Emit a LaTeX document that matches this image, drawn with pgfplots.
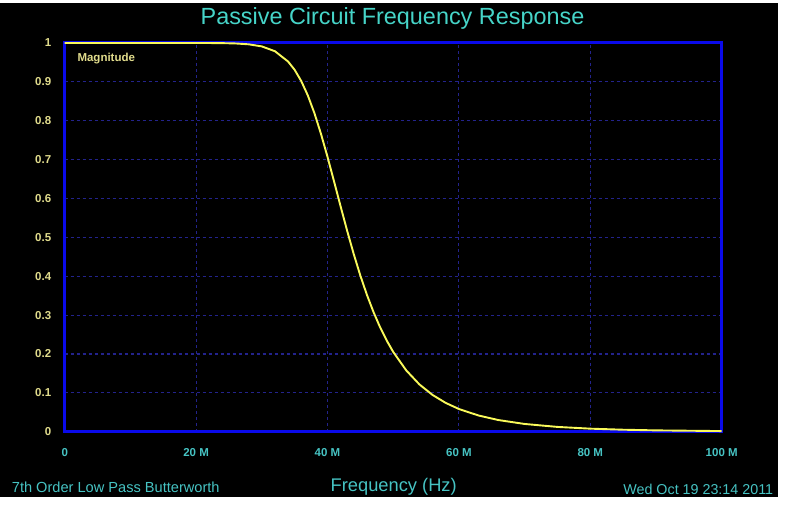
\documentclass[border=0pt]{standalone}
\usepackage{pgfplots}
\pgfplotsset{compat=1.18}
\usepackage{fontspec}
\setmainfont{Liberation Sans}
\definecolor{titlecyan}{RGB}{70,212,200}
\definecolor{xcyan}{RGB}{70,195,195}
\definecolor{ylab}{RGB}{225,220,140}
\definecolor{frameblue}{RGB}{10,10,235}
\definecolor{gridblue}{RGB}{35,35,140}
\definecolor{curveyellow}{RGB}{250,250,90}
\begin{document}
\begin{tikzpicture}
\path[use as bounding box, fill=white] (0pt,0pt) rectangle (786pt,505pt);
\fill[black] (0pt,8pt) rectangle (778pt,502pt);
\begin{axis}[
  at={(64.7pt,73.3pt)}, anchor=south west,
  scale only axis, width=657pt, height=388.7pt,
  xmin=0, xmax=100, ymin=0, ymax=1, clip=false,
  axis line style={frameblue, line width=3pt},
  xtick={0,20,40,60,80,100},
  xticklabels={0,20 M,40 M,60 M,80 M,100 M},
  ytick={0,0.1,0.2,0.3,0.4,0.5,0.6,0.7,0.8,0.9,1},
  yticklabels={0,0.1,0.2,0.3,0.4,0.5,0.6,0.7,0.8,0.9,1},
  major tick length=0pt,
  grid=major,
  grid style={gridblue, line width=1.1pt, dash pattern=on 3pt off 3pt},
  xticklabel style={font=\fontsize{11.5}{13}\selectfont\bfseries, text=xcyan, yshift=-13pt},
  yticklabel style={font=\fontsize{11.5}{13}\selectfont\bfseries, text=ylab, xshift=-10pt},
]
\addplot[curveyellow, line width=1.9pt] table[row sep=\\] {
x y\\
0 1.0000\\
5 1.0000\\
10 1.0000\\
15 1.0000\\
20 1.0000\\
22 0.9999\\
24 0.9996\\
26 0.9988\\
28 0.9966\\
30 0.9912\\
32 0.9788\\
34 0.9523\\
35 0.9309\\
36 0.9022\\
37 0.8653\\
38 0.8199\\
39 0.7666\\
40 0.7071\\
41 0.6437\\
42 0.5793\\
43 0.5163\\
44 0.4566\\
45 0.4015\\
46 0.3520\\
47 0.3079\\
48 0.2688\\
49 0.2349\\
50 0.2053\\
52 0.1574\\
54 0.1215\\
56 0.0944\\
58 0.0740\\
60 0.0584\\
63 0.0416\\
66 0.0300\\
70 0.0199\\
75 0.0123\\
80 0.0078\\
85 0.0051\\
90 0.0034\\
100 0.0016\\
};
\end{axis}
\node[font=\fontsize{23.4}{26}\selectfont, text=titlecyan] at (392.5pt,487pt) {Passive Circuit Frequency Response};
\node[font=\fontsize{18.3}{20}\selectfont, text=xcyan] at (393.7pt,18pt) {Frequency (Hz)};
\node[anchor=west, inner sep=0pt, font=\fontsize{14.6}{16}\selectfont, text=xcyan] at (11.7pt,18pt) {7th Order Low Pass Butterworth};
\node[anchor=east, inner sep=0pt, font=\fontsize{14.3}{16}\selectfont, text=xcyan] at (773.3pt,15.7pt) {Wed Oct 19 23:14 2011};
\node[anchor=base west, inner sep=0pt, font=\fontsize{11.5}{13}\selectfont\bfseries, text=ylab] at (77.3pt,443.5pt) {Magnitude};
\end{tikzpicture}
\end{document}
